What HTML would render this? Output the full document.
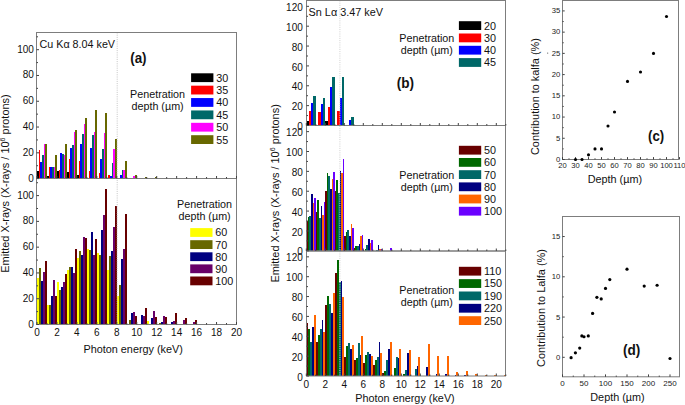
<!DOCTYPE html><html><head><meta charset="utf-8"><style>html,body{margin:0;padding:0;background:#fff;}svg{display:block;}</style></head><body><svg width="685" height="405" viewBox="0 0 685 405" font-family="Liberation Sans">
<rect width="685" height="405" fill="#fff"/>
<g shape-rendering="crispEdges">
<rect x="37.00" y="171.25" width="1.66" height="7.35" fill="#000000"/>
<rect x="38.66" y="150.24" width="1.66" height="28.36" fill="#ff0000"/>
<rect x="40.33" y="162.10" width="1.66" height="16.50" fill="#0000ff"/>
<rect x="41.99" y="155.40" width="1.66" height="23.20" fill="#006868"/>
<rect x="43.65" y="143.80" width="1.66" height="34.80" fill="#ff00ff"/>
<rect x="45.31" y="143.80" width="1.66" height="34.80" fill="#686800"/>
<rect x="46.98" y="176.02" width="1.66" height="2.58" fill="#000000"/>
<rect x="48.64" y="167.00" width="1.66" height="11.60" fill="#ff0000"/>
<rect x="50.30" y="167.00" width="1.66" height="11.60" fill="#0000ff"/>
<rect x="51.96" y="167.00" width="1.66" height="11.60" fill="#006868"/>
<rect x="53.62" y="167.00" width="1.66" height="11.60" fill="#ff00ff"/>
<rect x="55.29" y="155.40" width="1.66" height="23.20" fill="#686800"/>
<rect x="56.95" y="171.25" width="1.66" height="7.35" fill="#000000"/>
<rect x="58.61" y="169.96" width="1.66" height="8.64" fill="#ff0000"/>
<rect x="60.28" y="152.82" width="1.66" height="25.78" fill="#0000ff"/>
<rect x="61.94" y="154.11" width="1.66" height="24.49" fill="#006868"/>
<rect x="63.60" y="155.40" width="1.66" height="23.20" fill="#ff00ff"/>
<rect x="65.26" y="143.80" width="1.66" height="34.80" fill="#686800"/>
<rect x="66.92" y="172.16" width="1.66" height="6.44" fill="#000000"/>
<rect x="68.59" y="159.26" width="1.66" height="19.33" fill="#ff0000"/>
<rect x="70.25" y="148.05" width="1.66" height="30.55" fill="#0000ff"/>
<rect x="71.91" y="145.09" width="1.66" height="33.51" fill="#006868"/>
<rect x="73.58" y="132.20" width="1.66" height="46.40" fill="#ff00ff"/>
<rect x="75.24" y="129.62" width="1.66" height="48.98" fill="#686800"/>
<rect x="76.90" y="175.25" width="1.66" height="3.35" fill="#000000"/>
<rect x="78.56" y="160.55" width="1.66" height="18.05" fill="#ff0000"/>
<rect x="80.23" y="144.05" width="1.66" height="34.55" fill="#0000ff"/>
<rect x="81.89" y="133.74" width="1.66" height="44.86" fill="#006868"/>
<rect x="83.55" y="124.08" width="1.66" height="54.52" fill="#ff00ff"/>
<rect x="85.21" y="117.76" width="1.66" height="60.84" fill="#686800"/>
<rect x="88.54" y="171.38" width="1.66" height="7.22" fill="#ff0000"/>
<rect x="90.20" y="147.66" width="1.66" height="30.94" fill="#0000ff"/>
<rect x="91.86" y="135.16" width="1.66" height="43.44" fill="#006868"/>
<rect x="93.53" y="131.94" width="1.66" height="46.66" fill="#ff00ff"/>
<rect x="95.19" y="110.28" width="1.66" height="68.32" fill="#686800"/>
<rect x="98.51" y="173.19" width="1.66" height="5.41" fill="#ff0000"/>
<rect x="100.17" y="159.14" width="1.66" height="19.46" fill="#0000ff"/>
<rect x="101.84" y="148.95" width="1.66" height="29.65" fill="#006868"/>
<rect x="103.50" y="133.10" width="1.66" height="45.50" fill="#ff00ff"/>
<rect x="105.16" y="112.86" width="1.66" height="65.74" fill="#686800"/>
<rect x="108.49" y="174.73" width="1.66" height="3.87" fill="#ff0000"/>
<rect x="110.15" y="176.28" width="1.66" height="2.32" fill="#0000ff"/>
<rect x="111.81" y="163.39" width="1.66" height="15.21" fill="#006868"/>
<rect x="113.48" y="148.95" width="1.66" height="29.65" fill="#ff00ff"/>
<rect x="115.14" y="138.64" width="1.66" height="39.96" fill="#686800"/>
<rect x="120.12" y="175.38" width="1.66" height="3.22" fill="#0000ff"/>
<rect x="121.79" y="169.83" width="1.66" height="8.77" fill="#006868"/>
<rect x="123.45" y="169.83" width="1.66" height="8.77" fill="#ff00ff"/>
<rect x="125.11" y="160.81" width="1.66" height="17.79" fill="#686800"/>
<rect x="133.42" y="176.28" width="1.66" height="2.32" fill="#ff00ff"/>
<rect x="135.09" y="175.25" width="1.66" height="3.35" fill="#686800"/>
<rect x="145.06" y="176.54" width="1.66" height="2.06" fill="#686800"/>
<rect x="155.04" y="177.31" width="1.66" height="1.29" fill="#686800"/>
<rect x="37.00" y="278.35" width="1.99" height="46.15" fill="#ffff00"/>
<rect x="38.99" y="268.17" width="1.99" height="56.33" fill="#686800"/>
<rect x="40.99" y="280.67" width="1.99" height="43.83" fill="#000080"/>
<rect x="42.98" y="272.17" width="1.99" height="52.33" fill="#680068"/>
<rect x="44.98" y="261.47" width="1.99" height="63.03" fill="#680000"/>
<rect x="46.98" y="305.42" width="1.99" height="19.08" fill="#ffff00"/>
<rect x="48.97" y="305.42" width="1.99" height="19.08" fill="#686800"/>
<rect x="50.97" y="296.40" width="1.99" height="28.10" fill="#000080"/>
<rect x="52.96" y="279.64" width="1.99" height="44.86" fill="#680068"/>
<rect x="54.95" y="296.40" width="1.99" height="28.10" fill="#680000"/>
<rect x="56.95" y="281.96" width="1.99" height="42.54" fill="#ffff00"/>
<rect x="58.95" y="290.08" width="1.99" height="34.42" fill="#686800"/>
<rect x="60.94" y="287.12" width="1.99" height="37.38" fill="#000080"/>
<rect x="62.94" y="281.96" width="1.99" height="42.54" fill="#680068"/>
<rect x="64.93" y="274.23" width="1.99" height="50.27" fill="#680000"/>
<rect x="66.92" y="269.85" width="1.99" height="54.65" fill="#ffff00"/>
<rect x="68.92" y="266.88" width="1.99" height="57.62" fill="#686800"/>
<rect x="70.91" y="266.88" width="1.99" height="57.62" fill="#000080"/>
<rect x="72.91" y="273.33" width="1.99" height="51.17" fill="#680068"/>
<rect x="74.91" y="248.58" width="1.99" height="75.92" fill="#680000"/>
<rect x="76.90" y="257.60" width="1.99" height="66.90" fill="#ffff00"/>
<rect x="78.90" y="251.41" width="1.99" height="73.09" fill="#686800"/>
<rect x="80.89" y="255.02" width="1.99" height="69.48" fill="#000080"/>
<rect x="82.89" y="236.98" width="1.99" height="87.52" fill="#680068"/>
<rect x="84.88" y="238.14" width="1.99" height="86.36" fill="#680000"/>
<rect x="86.88" y="248.84" width="1.99" height="75.66" fill="#ffff00"/>
<rect x="88.87" y="250.12" width="1.99" height="74.38" fill="#686800"/>
<rect x="90.86" y="231.95" width="1.99" height="92.55" fill="#000080"/>
<rect x="92.86" y="255.02" width="1.99" height="69.48" fill="#680068"/>
<rect x="94.86" y="238.91" width="1.99" height="85.59" fill="#680000"/>
<rect x="96.85" y="252.57" width="1.99" height="71.93" fill="#ffff00"/>
<rect x="98.84" y="255.02" width="1.99" height="69.48" fill="#686800"/>
<rect x="100.84" y="230.40" width="1.99" height="94.10" fill="#000080"/>
<rect x="102.83" y="214.68" width="1.99" height="109.82" fill="#680068"/>
<rect x="104.83" y="189.16" width="1.99" height="135.34" fill="#680000"/>
<rect x="106.83" y="270.10" width="1.99" height="54.40" fill="#ffff00"/>
<rect x="108.82" y="256.18" width="1.99" height="68.32" fill="#686800"/>
<rect x="110.81" y="251.28" width="1.99" height="73.22" fill="#000080"/>
<rect x="112.81" y="226.54" width="1.99" height="97.96" fill="#680068"/>
<rect x="114.81" y="205.53" width="1.99" height="118.97" fill="#680000"/>
<rect x="116.80" y="296.14" width="1.99" height="28.36" fill="#ffff00"/>
<rect x="118.80" y="284.54" width="1.99" height="39.96" fill="#686800"/>
<rect x="120.79" y="258.76" width="1.99" height="65.74" fill="#000080"/>
<rect x="122.78" y="248.84" width="1.99" height="75.66" fill="#680068"/>
<rect x="124.78" y="213.65" width="1.99" height="110.85" fill="#680000"/>
<rect x="128.77" y="319.60" width="1.99" height="4.90" fill="#686800"/>
<rect x="130.76" y="313.16" width="1.99" height="11.34" fill="#000080"/>
<rect x="132.76" y="311.74" width="1.99" height="12.76" fill="#680068"/>
<rect x="134.75" y="315.73" width="1.99" height="8.77" fill="#680000"/>
<rect x="140.74" y="314.57" width="1.99" height="9.93" fill="#000080"/>
<rect x="142.74" y="316.25" width="1.99" height="8.25" fill="#680068"/>
<rect x="144.73" y="308.26" width="1.99" height="16.24" fill="#680000"/>
<rect x="146.72" y="321.02" width="1.99" height="3.48" fill="#ffff00"/>
<rect x="150.72" y="318.44" width="1.99" height="6.06" fill="#000080"/>
<rect x="152.71" y="310.84" width="1.99" height="13.66" fill="#680068"/>
<rect x="154.70" y="317.41" width="1.99" height="7.09" fill="#680000"/>
<rect x="158.69" y="323.21" width="1.99" height="1.29" fill="#686800"/>
<rect x="160.69" y="322.31" width="1.99" height="2.19" fill="#000080"/>
<rect x="162.69" y="316.12" width="1.99" height="8.38" fill="#680068"/>
<rect x="164.68" y="317.41" width="1.99" height="7.09" fill="#680000"/>
<rect x="170.66" y="322.31" width="1.99" height="2.19" fill="#000080"/>
<rect x="172.66" y="321.15" width="1.99" height="3.35" fill="#680068"/>
<rect x="174.65" y="313.16" width="1.99" height="11.34" fill="#680000"/>
<rect x="182.63" y="320.12" width="1.99" height="4.38" fill="#680068"/>
<rect x="184.63" y="318.44" width="1.99" height="6.06" fill="#680000"/>
<rect x="192.61" y="322.31" width="1.99" height="2.19" fill="#680068"/>
<rect x="194.60" y="319.86" width="1.99" height="4.64" fill="#680000"/>
<rect x="204.58" y="323.73" width="1.99" height="0.77" fill="#680000"/>
<rect x="212.56" y="323.73" width="1.99" height="0.77" fill="#680068"/>
<rect x="224.53" y="323.73" width="1.99" height="0.77" fill="#680000"/>
</g>
<line x1="117.20" y1="32.50" x2="117.20" y2="324.50" stroke="#c4c4c4" stroke-width="1" stroke-dasharray="1,1.2"/>
<rect x="36.50" y="32.50" width="200.00" height="146.00" fill="none" stroke="#7d7d7d" stroke-width="1"/>
<rect x="36.50" y="178.50" width="200.00" height="146.00" fill="none" stroke="#7d7d7d" stroke-width="1"/>
<line x1="36.50" y1="178.60" x2="39.00" y2="178.60" stroke="#404040" stroke-width="1" />
<text x="33.90" y="181.60" font-size="10.0" text-anchor="end" font-weight="normal" fill="#111" >0</text>
<line x1="36.50" y1="165.71" x2="38.00" y2="165.71" stroke="#404040" stroke-width="1" />
<line x1="36.50" y1="152.82" x2="39.00" y2="152.82" stroke="#404040" stroke-width="1" />
<text x="33.90" y="155.82" font-size="10.0" text-anchor="end" font-weight="normal" fill="#111" >20</text>
<line x1="36.50" y1="139.93" x2="38.00" y2="139.93" stroke="#404040" stroke-width="1" />
<line x1="36.50" y1="127.04" x2="39.00" y2="127.04" stroke="#404040" stroke-width="1" />
<text x="33.90" y="130.04" font-size="10.0" text-anchor="end" font-weight="normal" fill="#111" >40</text>
<line x1="36.50" y1="114.15" x2="38.00" y2="114.15" stroke="#404040" stroke-width="1" />
<line x1="36.50" y1="101.26" x2="39.00" y2="101.26" stroke="#404040" stroke-width="1" />
<text x="33.90" y="104.26" font-size="10.0" text-anchor="end" font-weight="normal" fill="#111" >60</text>
<line x1="36.50" y1="88.37" x2="38.00" y2="88.37" stroke="#404040" stroke-width="1" />
<line x1="36.50" y1="75.48" x2="39.00" y2="75.48" stroke="#404040" stroke-width="1" />
<text x="33.90" y="78.48" font-size="10.0" text-anchor="end" font-weight="normal" fill="#111" >80</text>
<line x1="36.50" y1="62.59" x2="38.00" y2="62.59" stroke="#404040" stroke-width="1" />
<line x1="36.50" y1="49.70" x2="39.00" y2="49.70" stroke="#404040" stroke-width="1" />
<text x="33.90" y="52.70" font-size="10.0" text-anchor="end" font-weight="normal" fill="#111" >100</text>
<line x1="36.50" y1="36.81" x2="38.00" y2="36.81" stroke="#404040" stroke-width="1" />
<line x1="36.50" y1="324.50" x2="39.00" y2="324.50" stroke="#404040" stroke-width="1" />
<text x="33.90" y="327.50" font-size="10.0" text-anchor="end" font-weight="normal" fill="#111" >0</text>
<line x1="36.50" y1="311.61" x2="38.00" y2="311.61" stroke="#404040" stroke-width="1" />
<line x1="36.50" y1="298.72" x2="39.00" y2="298.72" stroke="#404040" stroke-width="1" />
<text x="33.90" y="301.72" font-size="10.0" text-anchor="end" font-weight="normal" fill="#111" >20</text>
<line x1="36.50" y1="285.83" x2="38.00" y2="285.83" stroke="#404040" stroke-width="1" />
<line x1="36.50" y1="272.94" x2="39.00" y2="272.94" stroke="#404040" stroke-width="1" />
<text x="33.90" y="275.94" font-size="10.0" text-anchor="end" font-weight="normal" fill="#111" >40</text>
<line x1="36.50" y1="260.05" x2="38.00" y2="260.05" stroke="#404040" stroke-width="1" />
<line x1="36.50" y1="247.16" x2="39.00" y2="247.16" stroke="#404040" stroke-width="1" />
<text x="33.90" y="250.16" font-size="10.0" text-anchor="end" font-weight="normal" fill="#111" >60</text>
<line x1="36.50" y1="234.27" x2="38.00" y2="234.27" stroke="#404040" stroke-width="1" />
<line x1="36.50" y1="221.38" x2="39.00" y2="221.38" stroke="#404040" stroke-width="1" />
<text x="33.90" y="224.38" font-size="10.0" text-anchor="end" font-weight="normal" fill="#111" >80</text>
<line x1="36.50" y1="208.49" x2="38.00" y2="208.49" stroke="#404040" stroke-width="1" />
<line x1="36.50" y1="195.60" x2="39.00" y2="195.60" stroke="#404040" stroke-width="1" />
<text x="33.90" y="198.60" font-size="10.0" text-anchor="end" font-weight="normal" fill="#111" >100</text>
<line x1="36.50" y1="182.71" x2="38.00" y2="182.71" stroke="#404040" stroke-width="1" />
<line x1="37.00" y1="178.50" x2="37.00" y2="176.00" stroke="#404040" stroke-width="1" />
<line x1="46.98" y1="178.50" x2="46.98" y2="177.00" stroke="#404040" stroke-width="1" />
<line x1="56.95" y1="178.50" x2="56.95" y2="176.00" stroke="#404040" stroke-width="1" />
<line x1="66.92" y1="178.50" x2="66.92" y2="177.00" stroke="#404040" stroke-width="1" />
<line x1="76.90" y1="178.50" x2="76.90" y2="176.00" stroke="#404040" stroke-width="1" />
<line x1="86.88" y1="178.50" x2="86.88" y2="177.00" stroke="#404040" stroke-width="1" />
<line x1="96.85" y1="178.50" x2="96.85" y2="176.00" stroke="#404040" stroke-width="1" />
<line x1="106.83" y1="178.50" x2="106.83" y2="177.00" stroke="#404040" stroke-width="1" />
<line x1="116.80" y1="178.50" x2="116.80" y2="176.00" stroke="#404040" stroke-width="1" />
<line x1="126.77" y1="178.50" x2="126.77" y2="177.00" stroke="#404040" stroke-width="1" />
<line x1="136.75" y1="178.50" x2="136.75" y2="176.00" stroke="#404040" stroke-width="1" />
<line x1="146.72" y1="178.50" x2="146.72" y2="177.00" stroke="#404040" stroke-width="1" />
<line x1="156.70" y1="178.50" x2="156.70" y2="176.00" stroke="#404040" stroke-width="1" />
<line x1="166.67" y1="178.50" x2="166.67" y2="177.00" stroke="#404040" stroke-width="1" />
<line x1="176.65" y1="178.50" x2="176.65" y2="176.00" stroke="#404040" stroke-width="1" />
<line x1="186.62" y1="178.50" x2="186.62" y2="177.00" stroke="#404040" stroke-width="1" />
<line x1="196.60" y1="178.50" x2="196.60" y2="176.00" stroke="#404040" stroke-width="1" />
<line x1="206.57" y1="178.50" x2="206.57" y2="177.00" stroke="#404040" stroke-width="1" />
<line x1="216.55" y1="178.50" x2="216.55" y2="176.00" stroke="#404040" stroke-width="1" />
<line x1="226.53" y1="178.50" x2="226.53" y2="177.00" stroke="#404040" stroke-width="1" />
<line x1="236.50" y1="178.50" x2="236.50" y2="176.00" stroke="#404040" stroke-width="1" />
<line x1="37.00" y1="324.50" x2="37.00" y2="322.00" stroke="#404040" stroke-width="1" />
<text x="37.00" y="335.70" font-size="10.0" text-anchor="middle" font-weight="normal" fill="#111" >0</text>
<line x1="46.98" y1="324.50" x2="46.98" y2="323.00" stroke="#404040" stroke-width="1" />
<line x1="56.95" y1="324.50" x2="56.95" y2="322.00" stroke="#404040" stroke-width="1" />
<text x="56.95" y="335.70" font-size="10.0" text-anchor="middle" font-weight="normal" fill="#111" >2</text>
<line x1="66.92" y1="324.50" x2="66.92" y2="323.00" stroke="#404040" stroke-width="1" />
<line x1="76.90" y1="324.50" x2="76.90" y2="322.00" stroke="#404040" stroke-width="1" />
<text x="76.90" y="335.70" font-size="10.0" text-anchor="middle" font-weight="normal" fill="#111" >4</text>
<line x1="86.88" y1="324.50" x2="86.88" y2="323.00" stroke="#404040" stroke-width="1" />
<line x1="96.85" y1="324.50" x2="96.85" y2="322.00" stroke="#404040" stroke-width="1" />
<text x="96.85" y="335.70" font-size="10.0" text-anchor="middle" font-weight="normal" fill="#111" >6</text>
<line x1="106.83" y1="324.50" x2="106.83" y2="323.00" stroke="#404040" stroke-width="1" />
<line x1="116.80" y1="324.50" x2="116.80" y2="322.00" stroke="#404040" stroke-width="1" />
<text x="116.80" y="335.70" font-size="10.0" text-anchor="middle" font-weight="normal" fill="#111" >8</text>
<line x1="126.77" y1="324.50" x2="126.77" y2="323.00" stroke="#404040" stroke-width="1" />
<line x1="136.75" y1="324.50" x2="136.75" y2="322.00" stroke="#404040" stroke-width="1" />
<text x="136.75" y="335.70" font-size="10.0" text-anchor="middle" font-weight="normal" fill="#111" >10</text>
<line x1="146.72" y1="324.50" x2="146.72" y2="323.00" stroke="#404040" stroke-width="1" />
<line x1="156.70" y1="324.50" x2="156.70" y2="322.00" stroke="#404040" stroke-width="1" />
<text x="156.70" y="335.70" font-size="10.0" text-anchor="middle" font-weight="normal" fill="#111" >12</text>
<line x1="166.67" y1="324.50" x2="166.67" y2="323.00" stroke="#404040" stroke-width="1" />
<line x1="176.65" y1="324.50" x2="176.65" y2="322.00" stroke="#404040" stroke-width="1" />
<text x="176.65" y="335.70" font-size="10.0" text-anchor="middle" font-weight="normal" fill="#111" >14</text>
<line x1="186.62" y1="324.50" x2="186.62" y2="323.00" stroke="#404040" stroke-width="1" />
<line x1="196.60" y1="324.50" x2="196.60" y2="322.00" stroke="#404040" stroke-width="1" />
<text x="196.60" y="335.70" font-size="10.0" text-anchor="middle" font-weight="normal" fill="#111" >16</text>
<line x1="206.57" y1="324.50" x2="206.57" y2="323.00" stroke="#404040" stroke-width="1" />
<line x1="216.55" y1="324.50" x2="216.55" y2="322.00" stroke="#404040" stroke-width="1" />
<text x="216.55" y="335.70" font-size="10.0" text-anchor="middle" font-weight="normal" fill="#111" >18</text>
<line x1="226.53" y1="324.50" x2="226.53" y2="323.00" stroke="#404040" stroke-width="1" />
<line x1="236.50" y1="324.50" x2="236.50" y2="322.00" stroke="#404040" stroke-width="1" />
<text x="236.50" y="335.70" font-size="10.0" text-anchor="middle" font-weight="normal" fill="#111" >20</text>
<text x="39.50" y="47.50" font-size="10.75" text-anchor="start" font-weight="normal" fill="#111" >Cu Kα 8.04 keV</text>
<text transform="translate(130.20,62.90) scale(1,1.1)" font-size="13.4" font-weight="bold" fill="#111">(a)</text>
<text x="157.60" y="97.50" font-size="10.75" text-anchor="middle" font-weight="normal" fill="#111" >Penetration</text>
<text x="157.60" y="109.60" font-size="10.75" text-anchor="middle" font-weight="normal" fill="#111" >depth (µm)</text>
<rect x="191.10" y="73.30" width="22.30" height="8.80" fill="#000000"/>
<text x="216.20" y="81.60" font-size="10.8" text-anchor="start" font-weight="normal" fill="#111" >30</text>
<rect x="191.10" y="85.68" width="22.30" height="8.80" fill="#ff0000"/>
<text x="216.20" y="93.98" font-size="10.8" text-anchor="start" font-weight="normal" fill="#111" >35</text>
<rect x="191.10" y="98.06" width="22.30" height="8.80" fill="#0000ff"/>
<text x="216.20" y="106.36" font-size="10.8" text-anchor="start" font-weight="normal" fill="#111" >40</text>
<rect x="191.10" y="110.44" width="22.30" height="8.80" fill="#006868"/>
<text x="216.20" y="118.74" font-size="10.8" text-anchor="start" font-weight="normal" fill="#111" >45</text>
<rect x="191.10" y="122.82" width="22.30" height="8.80" fill="#ff00ff"/>
<text x="216.20" y="131.12" font-size="10.8" text-anchor="start" font-weight="normal" fill="#111" >50</text>
<rect x="191.10" y="135.20" width="22.30" height="8.80" fill="#686800"/>
<text x="216.20" y="143.50" font-size="10.8" text-anchor="start" font-weight="normal" fill="#111" >55</text>
<text x="204.60" y="207.80" font-size="10.75" text-anchor="middle" font-weight="normal" fill="#111" >Penetration</text>
<text x="204.60" y="219.90" font-size="10.75" text-anchor="middle" font-weight="normal" fill="#111" >depth (µm)</text>
<rect x="190.20" y="228.10" width="22.30" height="8.80" fill="#ffff00"/>
<text x="215.30" y="236.40" font-size="10.8" text-anchor="start" font-weight="normal" fill="#111" >60</text>
<rect x="190.20" y="240.20" width="22.30" height="8.80" fill="#686800"/>
<text x="215.30" y="248.50" font-size="10.8" text-anchor="start" font-weight="normal" fill="#111" >70</text>
<rect x="190.20" y="252.30" width="22.30" height="8.80" fill="#000080"/>
<text x="215.30" y="260.60" font-size="10.8" text-anchor="start" font-weight="normal" fill="#111" >80</text>
<rect x="190.20" y="264.40" width="22.30" height="8.80" fill="#680068"/>
<text x="215.30" y="272.70" font-size="10.8" text-anchor="start" font-weight="normal" fill="#111" >90</text>
<rect x="190.20" y="276.50" width="22.30" height="8.80" fill="#680000"/>
<text x="215.30" y="284.80" font-size="10.8" text-anchor="start" font-weight="normal" fill="#111" >100</text>
<text x="133.20" y="353.00" font-size="10.85" text-anchor="middle" font-weight="normal" fill="#111" >Photon energy (keV)</text>
<text transform="translate(9.0,183.5) rotate(-90)" font-size="10.95" text-anchor="middle" fill="#111">Emitted X-rays (X-rays / 10<tspan font-size="7" dy="-4">6</tspan><tspan dy="4"> protons)</tspan></text>
<g shape-rendering="crispEdges">
<rect x="306.30" y="121.03" width="2.38" height="4.47" fill="#000000"/>
<rect x="308.68" y="110.80" width="2.38" height="14.70" fill="#ff0000"/>
<rect x="311.05" y="102.96" width="2.38" height="22.54" fill="#0000ff"/>
<rect x="313.43" y="96.01" width="2.38" height="29.49" fill="#006868"/>
<rect x="318.18" y="112.00" width="2.38" height="13.50" fill="#ff0000"/>
<rect x="320.55" y="104.15" width="2.38" height="21.35" fill="#0000ff"/>
<rect x="322.93" y="97.70" width="2.38" height="27.80" fill="#006868"/>
<rect x="325.30" y="121.03" width="2.38" height="4.47" fill="#000000"/>
<rect x="327.68" y="106.73" width="2.38" height="18.77" fill="#ff0000"/>
<rect x="330.05" y="86.77" width="2.38" height="38.73" fill="#0000ff"/>
<rect x="332.43" y="76.94" width="2.38" height="48.56" fill="#006868"/>
<rect x="337.18" y="110.80" width="2.38" height="14.70" fill="#ff0000"/>
<rect x="339.55" y="97.70" width="2.38" height="27.80" fill="#0000ff"/>
<rect x="341.93" y="76.94" width="2.38" height="48.56" fill="#006868"/>
<rect x="349.05" y="119.54" width="2.38" height="5.96" fill="#0000ff"/>
<rect x="351.43" y="116.56" width="2.38" height="8.94" fill="#006868"/>
<rect x="358.55" y="124.51" width="2.38" height="0.99" fill="#0000ff"/>
<rect x="360.93" y="124.51" width="2.38" height="0.99" fill="#006868"/>
<rect x="306.30" y="221.01" width="1.58" height="29.79" fill="#680000"/>
<rect x="307.88" y="217.04" width="1.58" height="33.76" fill="#006800"/>
<rect x="309.47" y="216.05" width="1.58" height="34.76" fill="#006868"/>
<rect x="311.05" y="194.20" width="1.58" height="56.60" fill="#000080"/>
<rect x="312.63" y="203.14" width="1.58" height="47.66" fill="#ff6600"/>
<rect x="314.22" y="198.17" width="1.58" height="52.63" fill="#6a00ff"/>
<rect x="315.80" y="212.07" width="1.58" height="38.73" fill="#680000"/>
<rect x="317.38" y="200.16" width="1.58" height="50.64" fill="#006800"/>
<rect x="318.97" y="218.03" width="1.58" height="32.77" fill="#006868"/>
<rect x="320.55" y="206.12" width="1.58" height="44.69" fill="#000080"/>
<rect x="322.13" y="215.05" width="1.58" height="35.75" fill="#ff6600"/>
<rect x="323.72" y="202.14" width="1.58" height="48.66" fill="#6a00ff"/>
<rect x="325.30" y="191.22" width="1.58" height="59.58" fill="#680000"/>
<rect x="326.88" y="173.35" width="1.58" height="77.45" fill="#006800"/>
<rect x="328.47" y="176.33" width="1.58" height="74.47" fill="#006868"/>
<rect x="330.05" y="189.23" width="1.58" height="61.57" fill="#000080"/>
<rect x="331.63" y="179.30" width="1.58" height="71.50" fill="#ff6600"/>
<rect x="333.22" y="172.35" width="1.58" height="78.45" fill="#6a00ff"/>
<rect x="334.80" y="191.22" width="1.58" height="59.58" fill="#680000"/>
<rect x="336.38" y="180.30" width="1.58" height="70.50" fill="#006800"/>
<rect x="337.97" y="192.71" width="1.58" height="58.09" fill="#006868"/>
<rect x="339.55" y="171.36" width="1.58" height="79.44" fill="#000080"/>
<rect x="341.13" y="173.35" width="1.58" height="77.45" fill="#ff6600"/>
<rect x="342.72" y="159.44" width="1.58" height="91.36" fill="#6a00ff"/>
<rect x="344.30" y="235.91" width="1.58" height="14.89" fill="#680000"/>
<rect x="345.88" y="231.93" width="1.58" height="18.87" fill="#006800"/>
<rect x="347.47" y="229.95" width="1.58" height="20.85" fill="#006868"/>
<rect x="349.05" y="235.91" width="1.58" height="14.89" fill="#000080"/>
<rect x="350.63" y="223.99" width="1.58" height="26.81" fill="#ff6600"/>
<rect x="352.22" y="227.96" width="1.58" height="22.84" fill="#6a00ff"/>
<rect x="353.80" y="247.82" width="1.58" height="2.98" fill="#680000"/>
<rect x="355.38" y="245.84" width="1.58" height="4.96" fill="#006800"/>
<rect x="356.97" y="245.84" width="1.58" height="4.96" fill="#006868"/>
<rect x="358.55" y="243.85" width="1.58" height="6.95" fill="#000080"/>
<rect x="360.13" y="235.91" width="1.58" height="14.89" fill="#ff6600"/>
<rect x="361.72" y="234.91" width="1.58" height="15.89" fill="#6a00ff"/>
<rect x="364.88" y="249.31" width="1.58" height="1.49" fill="#006800"/>
<rect x="366.47" y="244.84" width="1.58" height="5.96" fill="#006868"/>
<rect x="368.05" y="238.88" width="1.58" height="11.92" fill="#000080"/>
<rect x="369.63" y="242.86" width="1.58" height="7.94" fill="#ff6600"/>
<rect x="371.22" y="239.88" width="1.58" height="10.92" fill="#6a00ff"/>
<rect x="375.97" y="249.81" width="1.58" height="0.99" fill="#006868"/>
<rect x="377.55" y="244.84" width="1.58" height="5.96" fill="#000080"/>
<rect x="379.13" y="248.81" width="1.58" height="1.99" fill="#ff6600"/>
<rect x="380.72" y="248.62" width="1.58" height="2.18" fill="#6a00ff"/>
<rect x="390.22" y="247.82" width="1.58" height="2.98" fill="#6a00ff"/>
<rect x="306.30" y="323.37" width="1.90" height="52.63" fill="#680000"/>
<rect x="308.20" y="329.33" width="1.90" height="46.67" fill="#006800"/>
<rect x="310.10" y="342.24" width="1.90" height="33.76" fill="#006868"/>
<rect x="312.00" y="326.85" width="1.90" height="49.15" fill="#000080"/>
<rect x="313.90" y="314.93" width="1.90" height="61.07" fill="#ff6600"/>
<rect x="315.80" y="342.24" width="1.90" height="33.76" fill="#680000"/>
<rect x="317.70" y="335.29" width="1.90" height="40.71" fill="#006800"/>
<rect x="319.60" y="329.33" width="1.90" height="46.67" fill="#006868"/>
<rect x="321.50" y="319.90" width="1.90" height="56.10" fill="#000080"/>
<rect x="323.40" y="331.81" width="1.90" height="44.19" fill="#ff6600"/>
<rect x="325.30" y="304.50" width="1.90" height="71.50" fill="#680000"/>
<rect x="327.20" y="295.57" width="1.90" height="80.43" fill="#006800"/>
<rect x="329.10" y="303.51" width="1.90" height="72.49" fill="#006868"/>
<rect x="331.00" y="313.44" width="1.90" height="62.56" fill="#000080"/>
<rect x="332.90" y="292.59" width="1.90" height="83.41" fill="#ff6600"/>
<rect x="334.80" y="272.73" width="1.90" height="103.27" fill="#680000"/>
<rect x="336.70" y="259.82" width="1.90" height="116.18" fill="#006800"/>
<rect x="338.60" y="281.67" width="1.90" height="94.33" fill="#006868"/>
<rect x="340.50" y="280.67" width="1.90" height="95.33" fill="#000080"/>
<rect x="342.40" y="296.56" width="1.90" height="79.44" fill="#ff6600"/>
<rect x="344.30" y="356.64" width="1.90" height="19.36" fill="#680000"/>
<rect x="346.20" y="346.21" width="1.90" height="29.79" fill="#006800"/>
<rect x="348.10" y="342.64" width="1.90" height="33.36" fill="#006868"/>
<rect x="350.00" y="349.49" width="1.90" height="26.51" fill="#000080"/>
<rect x="351.90" y="344.62" width="1.90" height="31.38" fill="#ff6600"/>
<rect x="353.80" y="359.62" width="1.90" height="16.38" fill="#680000"/>
<rect x="355.70" y="358.42" width="1.90" height="17.58" fill="#006800"/>
<rect x="357.60" y="343.33" width="1.90" height="32.67" fill="#006868"/>
<rect x="359.50" y="355.35" width="1.90" height="20.65" fill="#000080"/>
<rect x="361.40" y="335.58" width="1.90" height="40.42" fill="#ff6600"/>
<rect x="363.30" y="362.59" width="1.90" height="13.41" fill="#680000"/>
<rect x="365.20" y="355.35" width="1.90" height="20.65" fill="#006800"/>
<rect x="367.10" y="351.57" width="1.90" height="24.43" fill="#006868"/>
<rect x="369.00" y="354.45" width="1.90" height="21.55" fill="#000080"/>
<rect x="370.90" y="356.24" width="1.90" height="19.76" fill="#ff6600"/>
<rect x="372.80" y="365.47" width="1.90" height="10.53" fill="#680000"/>
<rect x="374.70" y="360.31" width="1.90" height="15.69" fill="#006800"/>
<rect x="376.60" y="356.54" width="1.90" height="19.46" fill="#006868"/>
<rect x="378.50" y="341.84" width="1.90" height="34.16" fill="#000080"/>
<rect x="380.40" y="353.16" width="1.90" height="22.84" fill="#ff6600"/>
<rect x="382.30" y="373.32" width="1.90" height="2.68" fill="#680000"/>
<rect x="384.20" y="371.33" width="1.90" height="4.67" fill="#006800"/>
<rect x="386.10" y="360.31" width="1.90" height="15.69" fill="#006868"/>
<rect x="388.00" y="349.49" width="1.90" height="26.51" fill="#000080"/>
<rect x="389.90" y="341.64" width="1.90" height="34.36" fill="#ff6600"/>
<rect x="393.70" y="368.35" width="1.90" height="7.65" fill="#006800"/>
<rect x="395.60" y="357.33" width="1.90" height="18.67" fill="#006868"/>
<rect x="397.50" y="358.42" width="1.90" height="17.58" fill="#000080"/>
<rect x="399.40" y="348.79" width="1.90" height="27.21" fill="#ff6600"/>
<rect x="403.20" y="374.11" width="1.90" height="1.89" fill="#006800"/>
<rect x="405.10" y="370.44" width="1.90" height="5.56" fill="#006868"/>
<rect x="407.00" y="352.57" width="1.90" height="23.43" fill="#000080"/>
<rect x="408.90" y="350.38" width="1.90" height="25.62" fill="#ff6600"/>
<rect x="412.70" y="375.50" width="1.90" height="0.50" fill="#006800"/>
<rect x="414.60" y="369.25" width="1.90" height="6.75" fill="#006868"/>
<rect x="416.50" y="366.47" width="1.90" height="9.53" fill="#000080"/>
<rect x="418.40" y="356.64" width="1.90" height="19.36" fill="#ff6600"/>
<rect x="424.10" y="375.50" width="1.90" height="0.50" fill="#006868"/>
<rect x="426.00" y="367.36" width="1.90" height="8.64" fill="#000080"/>
<rect x="427.90" y="343.83" width="1.90" height="32.17" fill="#ff6600"/>
<rect x="435.50" y="374.11" width="1.90" height="1.89" fill="#000080"/>
<rect x="437.40" y="355.74" width="1.90" height="20.26" fill="#ff6600"/>
<rect x="445.00" y="374.11" width="1.90" height="1.89" fill="#000080"/>
<rect x="446.90" y="355.74" width="1.90" height="20.26" fill="#ff6600"/>
<rect x="454.50" y="375.40" width="1.90" height="0.60" fill="#000080"/>
<rect x="456.40" y="372.23" width="1.90" height="3.77" fill="#ff6600"/>
<rect x="464.00" y="375.30" width="1.90" height="0.70" fill="#000080"/>
<rect x="465.90" y="371.23" width="1.90" height="4.77" fill="#ff6600"/>
<rect x="475.40" y="374.21" width="1.90" height="1.79" fill="#ff6600"/>
<rect x="484.90" y="375.21" width="1.90" height="0.79" fill="#ff6600"/>
<rect x="494.40" y="375.21" width="1.90" height="0.79" fill="#ff6600"/>
<rect x="503.90" y="375.21" width="1.90" height="0.79" fill="#ff6600"/>
</g>
<line x1="339.90" y1="0.50" x2="339.90" y2="376.00" stroke="#d0d0d0" stroke-width="1" stroke-dasharray="1,1.2"/>
<rect x="306.50" y="0.50" width="199.00" height="125.00" fill="none" stroke="#7d7d7d" stroke-width="1"/>
<rect x="306.50" y="125.50" width="199.00" height="125.50" fill="none" stroke="#7d7d7d" stroke-width="1"/>
<rect x="306.50" y="251.00" width="199.00" height="125.00" fill="none" stroke="#7d7d7d" stroke-width="1"/>
<line x1="306.50" y1="125.50" x2="309.00" y2="125.50" stroke="#404040" stroke-width="1" />
<text x="302.80" y="130.10" font-size="10.0" text-anchor="end" font-weight="normal" fill="#111" >0</text>
<line x1="306.50" y1="115.57" x2="308.00" y2="115.57" stroke="#404040" stroke-width="1" />
<line x1="306.50" y1="105.64" x2="309.00" y2="105.64" stroke="#404040" stroke-width="1" />
<text x="302.80" y="110.24" font-size="10.0" text-anchor="end" font-weight="normal" fill="#111" >20</text>
<line x1="306.50" y1="95.71" x2="308.00" y2="95.71" stroke="#404040" stroke-width="1" />
<line x1="306.50" y1="85.78" x2="309.00" y2="85.78" stroke="#404040" stroke-width="1" />
<text x="302.80" y="90.38" font-size="10.0" text-anchor="end" font-weight="normal" fill="#111" >40</text>
<line x1="306.50" y1="75.85" x2="308.00" y2="75.85" stroke="#404040" stroke-width="1" />
<line x1="306.50" y1="65.92" x2="309.00" y2="65.92" stroke="#404040" stroke-width="1" />
<text x="302.80" y="70.52" font-size="10.0" text-anchor="end" font-weight="normal" fill="#111" >60</text>
<line x1="306.50" y1="55.99" x2="308.00" y2="55.99" stroke="#404040" stroke-width="1" />
<line x1="306.50" y1="46.06" x2="309.00" y2="46.06" stroke="#404040" stroke-width="1" />
<text x="302.80" y="50.66" font-size="10.0" text-anchor="end" font-weight="normal" fill="#111" >80</text>
<line x1="306.50" y1="36.13" x2="308.00" y2="36.13" stroke="#404040" stroke-width="1" />
<line x1="306.50" y1="26.20" x2="309.00" y2="26.20" stroke="#404040" stroke-width="1" />
<text x="302.80" y="30.80" font-size="10.0" text-anchor="end" font-weight="normal" fill="#111" >100</text>
<line x1="306.50" y1="16.27" x2="308.00" y2="16.27" stroke="#404040" stroke-width="1" />
<line x1="306.50" y1="6.34" x2="309.00" y2="6.34" stroke="#404040" stroke-width="1" />
<text x="302.80" y="10.94" font-size="10.0" text-anchor="end" font-weight="normal" fill="#111" >120</text>
<line x1="306.50" y1="250.80" x2="309.00" y2="250.80" stroke="#404040" stroke-width="1" />
<text x="302.80" y="255.40" font-size="10.0" text-anchor="end" font-weight="normal" fill="#111" >0</text>
<line x1="306.50" y1="240.87" x2="308.00" y2="240.87" stroke="#404040" stroke-width="1" />
<line x1="306.50" y1="230.94" x2="309.00" y2="230.94" stroke="#404040" stroke-width="1" />
<text x="302.80" y="235.54" font-size="10.0" text-anchor="end" font-weight="normal" fill="#111" >20</text>
<line x1="306.50" y1="221.01" x2="308.00" y2="221.01" stroke="#404040" stroke-width="1" />
<line x1="306.50" y1="211.08" x2="309.00" y2="211.08" stroke="#404040" stroke-width="1" />
<text x="302.80" y="215.68" font-size="10.0" text-anchor="end" font-weight="normal" fill="#111" >40</text>
<line x1="306.50" y1="201.15" x2="308.00" y2="201.15" stroke="#404040" stroke-width="1" />
<line x1="306.50" y1="191.22" x2="309.00" y2="191.22" stroke="#404040" stroke-width="1" />
<text x="302.80" y="195.82" font-size="10.0" text-anchor="end" font-weight="normal" fill="#111" >60</text>
<line x1="306.50" y1="181.29" x2="308.00" y2="181.29" stroke="#404040" stroke-width="1" />
<line x1="306.50" y1="171.36" x2="309.00" y2="171.36" stroke="#404040" stroke-width="1" />
<text x="302.80" y="175.96" font-size="10.0" text-anchor="end" font-weight="normal" fill="#111" >80</text>
<line x1="306.50" y1="161.43" x2="308.00" y2="161.43" stroke="#404040" stroke-width="1" />
<line x1="306.50" y1="151.50" x2="309.00" y2="151.50" stroke="#404040" stroke-width="1" />
<text x="302.80" y="156.10" font-size="10.0" text-anchor="end" font-weight="normal" fill="#111" >100</text>
<line x1="306.50" y1="141.57" x2="308.00" y2="141.57" stroke="#404040" stroke-width="1" />
<line x1="306.50" y1="131.64" x2="309.00" y2="131.64" stroke="#404040" stroke-width="1" />
<text x="302.80" y="136.24" font-size="10.0" text-anchor="end" font-weight="normal" fill="#111" >120</text>
<line x1="306.50" y1="376.00" x2="309.00" y2="376.00" stroke="#404040" stroke-width="1" />
<text x="302.80" y="380.60" font-size="10.0" text-anchor="end" font-weight="normal" fill="#111" >0</text>
<line x1="306.50" y1="366.07" x2="308.00" y2="366.07" stroke="#404040" stroke-width="1" />
<line x1="306.50" y1="356.14" x2="309.00" y2="356.14" stroke="#404040" stroke-width="1" />
<text x="302.80" y="360.74" font-size="10.0" text-anchor="end" font-weight="normal" fill="#111" >20</text>
<line x1="306.50" y1="346.21" x2="308.00" y2="346.21" stroke="#404040" stroke-width="1" />
<line x1="306.50" y1="336.28" x2="309.00" y2="336.28" stroke="#404040" stroke-width="1" />
<text x="302.80" y="340.88" font-size="10.0" text-anchor="end" font-weight="normal" fill="#111" >40</text>
<line x1="306.50" y1="326.35" x2="308.00" y2="326.35" stroke="#404040" stroke-width="1" />
<line x1="306.50" y1="316.42" x2="309.00" y2="316.42" stroke="#404040" stroke-width="1" />
<text x="302.80" y="321.02" font-size="10.0" text-anchor="end" font-weight="normal" fill="#111" >60</text>
<line x1="306.50" y1="306.49" x2="308.00" y2="306.49" stroke="#404040" stroke-width="1" />
<line x1="306.50" y1="296.56" x2="309.00" y2="296.56" stroke="#404040" stroke-width="1" />
<text x="302.80" y="301.16" font-size="10.0" text-anchor="end" font-weight="normal" fill="#111" >80</text>
<line x1="306.50" y1="286.63" x2="308.00" y2="286.63" stroke="#404040" stroke-width="1" />
<line x1="306.50" y1="276.70" x2="309.00" y2="276.70" stroke="#404040" stroke-width="1" />
<text x="302.80" y="281.30" font-size="10.0" text-anchor="end" font-weight="normal" fill="#111" >100</text>
<line x1="306.50" y1="266.77" x2="308.00" y2="266.77" stroke="#404040" stroke-width="1" />
<line x1="306.50" y1="256.84" x2="309.00" y2="256.84" stroke="#404040" stroke-width="1" />
<text x="302.80" y="261.44" font-size="10.0" text-anchor="end" font-weight="normal" fill="#111" >120</text>
<line x1="306.30" y1="125.50" x2="306.30" y2="123.00" stroke="#404040" stroke-width="1" />
<line x1="315.80" y1="125.50" x2="315.80" y2="124.00" stroke="#404040" stroke-width="1" />
<line x1="325.30" y1="125.50" x2="325.30" y2="123.00" stroke="#404040" stroke-width="1" />
<line x1="334.80" y1="125.50" x2="334.80" y2="124.00" stroke="#404040" stroke-width="1" />
<line x1="344.30" y1="125.50" x2="344.30" y2="123.00" stroke="#404040" stroke-width="1" />
<line x1="353.80" y1="125.50" x2="353.80" y2="124.00" stroke="#404040" stroke-width="1" />
<line x1="363.30" y1="125.50" x2="363.30" y2="123.00" stroke="#404040" stroke-width="1" />
<line x1="372.80" y1="125.50" x2="372.80" y2="124.00" stroke="#404040" stroke-width="1" />
<line x1="382.30" y1="125.50" x2="382.30" y2="123.00" stroke="#404040" stroke-width="1" />
<line x1="391.80" y1="125.50" x2="391.80" y2="124.00" stroke="#404040" stroke-width="1" />
<line x1="401.30" y1="125.50" x2="401.30" y2="123.00" stroke="#404040" stroke-width="1" />
<line x1="410.80" y1="125.50" x2="410.80" y2="124.00" stroke="#404040" stroke-width="1" />
<line x1="420.30" y1="125.50" x2="420.30" y2="123.00" stroke="#404040" stroke-width="1" />
<line x1="429.80" y1="125.50" x2="429.80" y2="124.00" stroke="#404040" stroke-width="1" />
<line x1="439.30" y1="125.50" x2="439.30" y2="123.00" stroke="#404040" stroke-width="1" />
<line x1="448.80" y1="125.50" x2="448.80" y2="124.00" stroke="#404040" stroke-width="1" />
<line x1="458.30" y1="125.50" x2="458.30" y2="123.00" stroke="#404040" stroke-width="1" />
<line x1="467.80" y1="125.50" x2="467.80" y2="124.00" stroke="#404040" stroke-width="1" />
<line x1="477.30" y1="125.50" x2="477.30" y2="123.00" stroke="#404040" stroke-width="1" />
<line x1="486.80" y1="125.50" x2="486.80" y2="124.00" stroke="#404040" stroke-width="1" />
<line x1="496.30" y1="125.50" x2="496.30" y2="123.00" stroke="#404040" stroke-width="1" />
<line x1="505.80" y1="125.50" x2="505.80" y2="124.00" stroke="#404040" stroke-width="1" />
<line x1="306.30" y1="251.00" x2="306.30" y2="248.50" stroke="#404040" stroke-width="1" />
<line x1="315.80" y1="251.00" x2="315.80" y2="249.50" stroke="#404040" stroke-width="1" />
<line x1="325.30" y1="251.00" x2="325.30" y2="248.50" stroke="#404040" stroke-width="1" />
<line x1="334.80" y1="251.00" x2="334.80" y2="249.50" stroke="#404040" stroke-width="1" />
<line x1="344.30" y1="251.00" x2="344.30" y2="248.50" stroke="#404040" stroke-width="1" />
<line x1="353.80" y1="251.00" x2="353.80" y2="249.50" stroke="#404040" stroke-width="1" />
<line x1="363.30" y1="251.00" x2="363.30" y2="248.50" stroke="#404040" stroke-width="1" />
<line x1="372.80" y1="251.00" x2="372.80" y2="249.50" stroke="#404040" stroke-width="1" />
<line x1="382.30" y1="251.00" x2="382.30" y2="248.50" stroke="#404040" stroke-width="1" />
<line x1="391.80" y1="251.00" x2="391.80" y2="249.50" stroke="#404040" stroke-width="1" />
<line x1="401.30" y1="251.00" x2="401.30" y2="248.50" stroke="#404040" stroke-width="1" />
<line x1="410.80" y1="251.00" x2="410.80" y2="249.50" stroke="#404040" stroke-width="1" />
<line x1="420.30" y1="251.00" x2="420.30" y2="248.50" stroke="#404040" stroke-width="1" />
<line x1="429.80" y1="251.00" x2="429.80" y2="249.50" stroke="#404040" stroke-width="1" />
<line x1="439.30" y1="251.00" x2="439.30" y2="248.50" stroke="#404040" stroke-width="1" />
<line x1="448.80" y1="251.00" x2="448.80" y2="249.50" stroke="#404040" stroke-width="1" />
<line x1="458.30" y1="251.00" x2="458.30" y2="248.50" stroke="#404040" stroke-width="1" />
<line x1="467.80" y1="251.00" x2="467.80" y2="249.50" stroke="#404040" stroke-width="1" />
<line x1="477.30" y1="251.00" x2="477.30" y2="248.50" stroke="#404040" stroke-width="1" />
<line x1="486.80" y1="251.00" x2="486.80" y2="249.50" stroke="#404040" stroke-width="1" />
<line x1="496.30" y1="251.00" x2="496.30" y2="248.50" stroke="#404040" stroke-width="1" />
<line x1="505.80" y1="251.00" x2="505.80" y2="249.50" stroke="#404040" stroke-width="1" />
<line x1="306.30" y1="376.00" x2="306.30" y2="373.50" stroke="#404040" stroke-width="1" />
<text x="306.30" y="387.70" font-size="10.0" text-anchor="middle" font-weight="normal" fill="#111" >0</text>
<line x1="315.80" y1="376.00" x2="315.80" y2="374.50" stroke="#404040" stroke-width="1" />
<line x1="325.30" y1="376.00" x2="325.30" y2="373.50" stroke="#404040" stroke-width="1" />
<text x="325.30" y="387.70" font-size="10.0" text-anchor="middle" font-weight="normal" fill="#111" >2</text>
<line x1="334.80" y1="376.00" x2="334.80" y2="374.50" stroke="#404040" stroke-width="1" />
<line x1="344.30" y1="376.00" x2="344.30" y2="373.50" stroke="#404040" stroke-width="1" />
<text x="344.30" y="387.70" font-size="10.0" text-anchor="middle" font-weight="normal" fill="#111" >4</text>
<line x1="353.80" y1="376.00" x2="353.80" y2="374.50" stroke="#404040" stroke-width="1" />
<line x1="363.30" y1="376.00" x2="363.30" y2="373.50" stroke="#404040" stroke-width="1" />
<text x="363.30" y="387.70" font-size="10.0" text-anchor="middle" font-weight="normal" fill="#111" >6</text>
<line x1="372.80" y1="376.00" x2="372.80" y2="374.50" stroke="#404040" stroke-width="1" />
<line x1="382.30" y1="376.00" x2="382.30" y2="373.50" stroke="#404040" stroke-width="1" />
<text x="382.30" y="387.70" font-size="10.0" text-anchor="middle" font-weight="normal" fill="#111" >8</text>
<line x1="391.80" y1="376.00" x2="391.80" y2="374.50" stroke="#404040" stroke-width="1" />
<line x1="401.30" y1="376.00" x2="401.30" y2="373.50" stroke="#404040" stroke-width="1" />
<text x="401.30" y="387.70" font-size="10.0" text-anchor="middle" font-weight="normal" fill="#111" >10</text>
<line x1="410.80" y1="376.00" x2="410.80" y2="374.50" stroke="#404040" stroke-width="1" />
<line x1="420.30" y1="376.00" x2="420.30" y2="373.50" stroke="#404040" stroke-width="1" />
<text x="420.30" y="387.70" font-size="10.0" text-anchor="middle" font-weight="normal" fill="#111" >12</text>
<line x1="429.80" y1="376.00" x2="429.80" y2="374.50" stroke="#404040" stroke-width="1" />
<line x1="439.30" y1="376.00" x2="439.30" y2="373.50" stroke="#404040" stroke-width="1" />
<text x="439.30" y="387.70" font-size="10.0" text-anchor="middle" font-weight="normal" fill="#111" >14</text>
<line x1="448.80" y1="376.00" x2="448.80" y2="374.50" stroke="#404040" stroke-width="1" />
<line x1="458.30" y1="376.00" x2="458.30" y2="373.50" stroke="#404040" stroke-width="1" />
<text x="458.30" y="387.70" font-size="10.0" text-anchor="middle" font-weight="normal" fill="#111" >16</text>
<line x1="467.80" y1="376.00" x2="467.80" y2="374.50" stroke="#404040" stroke-width="1" />
<line x1="477.30" y1="376.00" x2="477.30" y2="373.50" stroke="#404040" stroke-width="1" />
<text x="477.30" y="387.70" font-size="10.0" text-anchor="middle" font-weight="normal" fill="#111" >18</text>
<line x1="486.80" y1="376.00" x2="486.80" y2="374.50" stroke="#404040" stroke-width="1" />
<line x1="496.30" y1="376.00" x2="496.30" y2="373.50" stroke="#404040" stroke-width="1" />
<text x="496.30" y="387.70" font-size="10.0" text-anchor="middle" font-weight="normal" fill="#111" >20</text>
<line x1="505.80" y1="376.00" x2="505.80" y2="374.50" stroke="#404040" stroke-width="1" />
<text x="308.60" y="16.00" font-size="10.85" text-anchor="start" font-weight="normal" fill="#111" >Sn Lα 3.47 keV</text>
<text transform="translate(396.70,88.10) scale(1,1.12)" font-size="13.6" font-weight="bold" fill="#111">(b)</text>
<text x="426.80" y="42.00" font-size="10.75" text-anchor="middle" font-weight="normal" fill="#111" >Penetration</text>
<text x="426.80" y="54.10" font-size="10.75" text-anchor="middle" font-weight="normal" fill="#111" >depth (µm)</text>
<rect x="458.90" y="21.20" width="22.30" height="8.80" fill="#000000"/>
<text x="484.00" y="29.50" font-size="10.8" text-anchor="start" font-weight="normal" fill="#111" >20</text>
<rect x="458.90" y="33.50" width="22.30" height="8.80" fill="#ff0000"/>
<text x="484.00" y="41.80" font-size="10.8" text-anchor="start" font-weight="normal" fill="#111" >30</text>
<rect x="458.90" y="45.80" width="22.30" height="8.80" fill="#0000ff"/>
<text x="484.00" y="54.10" font-size="10.8" text-anchor="start" font-weight="normal" fill="#111" >40</text>
<rect x="458.90" y="58.10" width="22.30" height="8.80" fill="#006868"/>
<text x="484.00" y="66.40" font-size="10.8" text-anchor="start" font-weight="normal" fill="#111" >45</text>
<text x="426.80" y="178.80" font-size="10.75" text-anchor="middle" font-weight="normal" fill="#111" >Penetration</text>
<text x="426.80" y="190.90" font-size="10.75" text-anchor="middle" font-weight="normal" fill="#111" >depth (µm)</text>
<rect x="458.90" y="145.80" width="22.30" height="8.80" fill="#680000"/>
<text x="484.00" y="154.10" font-size="10.8" text-anchor="start" font-weight="normal" fill="#111" >50</text>
<rect x="458.90" y="158.00" width="22.30" height="8.80" fill="#006800"/>
<text x="484.00" y="166.30" font-size="10.8" text-anchor="start" font-weight="normal" fill="#111" >60</text>
<rect x="458.90" y="170.20" width="22.30" height="8.80" fill="#006868"/>
<text x="484.00" y="178.50" font-size="10.8" text-anchor="start" font-weight="normal" fill="#111" >70</text>
<rect x="458.90" y="182.40" width="22.30" height="8.80" fill="#000080"/>
<text x="484.00" y="190.70" font-size="10.8" text-anchor="start" font-weight="normal" fill="#111" >80</text>
<rect x="458.90" y="194.60" width="22.30" height="8.80" fill="#ff6600"/>
<text x="484.00" y="202.90" font-size="10.8" text-anchor="start" font-weight="normal" fill="#111" >90</text>
<rect x="458.90" y="206.80" width="22.30" height="8.80" fill="#6a00ff"/>
<text x="484.00" y="215.10" font-size="10.8" text-anchor="start" font-weight="normal" fill="#111" >100</text>
<text x="426.80" y="293.60" font-size="10.75" text-anchor="middle" font-weight="normal" fill="#111" >Penetration</text>
<text x="426.80" y="305.70" font-size="10.75" text-anchor="middle" font-weight="normal" fill="#111" >depth (µm)</text>
<rect x="458.90" y="266.80" width="22.30" height="8.80" fill="#680000"/>
<text x="484.00" y="275.10" font-size="10.8" text-anchor="start" font-weight="normal" fill="#111" >110</text>
<rect x="458.90" y="279.15" width="22.30" height="8.80" fill="#006800"/>
<text x="484.00" y="287.45" font-size="10.8" text-anchor="start" font-weight="normal" fill="#111" >150</text>
<rect x="458.90" y="291.50" width="22.30" height="8.80" fill="#006868"/>
<text x="484.00" y="299.80" font-size="10.8" text-anchor="start" font-weight="normal" fill="#111" >190</text>
<rect x="458.90" y="303.85" width="22.30" height="8.80" fill="#000080"/>
<text x="484.00" y="312.15" font-size="10.8" text-anchor="start" font-weight="normal" fill="#111" >220</text>
<rect x="458.90" y="316.20" width="22.30" height="8.80" fill="#ff6600"/>
<text x="484.00" y="324.50" font-size="10.8" text-anchor="start" font-weight="normal" fill="#111" >250</text>
<text x="405.00" y="402.00" font-size="10.85" text-anchor="middle" font-weight="normal" fill="#111" >Photon energy (keV)</text>
<text transform="translate(279.0,193.4) rotate(-90)" font-size="10.95" text-anchor="middle" fill="#111">Emitted X-rays (X-rays / 10<tspan font-size="7" dy="-4">6</tspan><tspan dy="4"> protons)</tspan></text>
<rect x="562.50" y="0.50" width="116.00" height="159.00" fill="none" stroke="#7d7d7d" stroke-width="1"/>
<line x1="562.50" y1="159.50" x2="564.70" y2="159.50" stroke="#404040" stroke-width="1" />
<text x="560.20" y="161.80" font-size="7.7" text-anchor="end" font-weight="normal" fill="#222" >0</text>
<line x1="562.50" y1="148.89" x2="563.70" y2="148.89" stroke="#404040" stroke-width="1" />
<line x1="562.50" y1="138.28" x2="564.70" y2="138.28" stroke="#404040" stroke-width="1" />
<text x="560.20" y="140.58" font-size="7.7" text-anchor="end" font-weight="normal" fill="#222" >5</text>
<line x1="562.50" y1="127.66" x2="563.70" y2="127.66" stroke="#404040" stroke-width="1" />
<line x1="562.50" y1="117.05" x2="564.70" y2="117.05" stroke="#404040" stroke-width="1" />
<text x="560.20" y="119.35" font-size="7.7" text-anchor="end" font-weight="normal" fill="#222" >10</text>
<line x1="562.50" y1="106.44" x2="563.70" y2="106.44" stroke="#404040" stroke-width="1" />
<line x1="562.50" y1="95.82" x2="564.70" y2="95.82" stroke="#404040" stroke-width="1" />
<text x="560.20" y="98.12" font-size="7.7" text-anchor="end" font-weight="normal" fill="#222" >15</text>
<line x1="562.50" y1="85.21" x2="563.70" y2="85.21" stroke="#404040" stroke-width="1" />
<line x1="562.50" y1="74.60" x2="564.70" y2="74.60" stroke="#404040" stroke-width="1" />
<text x="560.20" y="76.90" font-size="7.7" text-anchor="end" font-weight="normal" fill="#222" >20</text>
<line x1="562.50" y1="63.99" x2="563.70" y2="63.99" stroke="#404040" stroke-width="1" />
<line x1="562.50" y1="53.38" x2="564.70" y2="53.38" stroke="#404040" stroke-width="1" />
<text x="560.20" y="55.67" font-size="7.7" text-anchor="end" font-weight="normal" fill="#222" >25</text>
<line x1="562.50" y1="42.76" x2="563.70" y2="42.76" stroke="#404040" stroke-width="1" />
<line x1="562.50" y1="32.15" x2="564.70" y2="32.15" stroke="#404040" stroke-width="1" />
<text x="560.20" y="34.45" font-size="7.7" text-anchor="end" font-weight="normal" fill="#222" >30</text>
<line x1="562.50" y1="21.54" x2="563.70" y2="21.54" stroke="#404040" stroke-width="1" />
<line x1="562.50" y1="10.92" x2="564.70" y2="10.92" stroke="#404040" stroke-width="1" />
<text x="560.20" y="13.22" font-size="7.7" text-anchor="end" font-weight="normal" fill="#222" >35</text>
<line x1="562.50" y1="159.50" x2="562.50" y2="157.10" stroke="#404040" stroke-width="1" />
<text x="562.50" y="168.00" font-size="7.6" text-anchor="middle" font-weight="normal" fill="#222" >20</text>
<line x1="569.00" y1="159.50" x2="569.00" y2="158.30" stroke="#404040" stroke-width="1" />
<line x1="575.50" y1="159.50" x2="575.50" y2="157.10" stroke="#404040" stroke-width="1" />
<text x="575.50" y="168.00" font-size="7.6" text-anchor="middle" font-weight="normal" fill="#222" >30</text>
<line x1="582.00" y1="159.50" x2="582.00" y2="158.30" stroke="#404040" stroke-width="1" />
<line x1="588.50" y1="159.50" x2="588.50" y2="157.10" stroke="#404040" stroke-width="1" />
<text x="588.50" y="168.00" font-size="7.6" text-anchor="middle" font-weight="normal" fill="#222" >40</text>
<line x1="595.00" y1="159.50" x2="595.00" y2="158.30" stroke="#404040" stroke-width="1" />
<line x1="601.50" y1="159.50" x2="601.50" y2="157.10" stroke="#404040" stroke-width="1" />
<text x="601.50" y="168.00" font-size="7.6" text-anchor="middle" font-weight="normal" fill="#222" >50</text>
<line x1="608.00" y1="159.50" x2="608.00" y2="158.30" stroke="#404040" stroke-width="1" />
<line x1="614.50" y1="159.50" x2="614.50" y2="157.10" stroke="#404040" stroke-width="1" />
<text x="614.50" y="168.00" font-size="7.6" text-anchor="middle" font-weight="normal" fill="#222" >60</text>
<line x1="621.00" y1="159.50" x2="621.00" y2="158.30" stroke="#404040" stroke-width="1" />
<line x1="627.50" y1="159.50" x2="627.50" y2="157.10" stroke="#404040" stroke-width="1" />
<text x="627.50" y="168.00" font-size="7.6" text-anchor="middle" font-weight="normal" fill="#222" >70</text>
<line x1="634.00" y1="159.50" x2="634.00" y2="158.30" stroke="#404040" stroke-width="1" />
<line x1="640.50" y1="159.50" x2="640.50" y2="157.10" stroke="#404040" stroke-width="1" />
<text x="640.50" y="168.00" font-size="7.6" text-anchor="middle" font-weight="normal" fill="#222" >80</text>
<line x1="647.00" y1="159.50" x2="647.00" y2="158.30" stroke="#404040" stroke-width="1" />
<line x1="653.50" y1="159.50" x2="653.50" y2="157.10" stroke="#404040" stroke-width="1" />
<text x="653.50" y="168.00" font-size="7.6" text-anchor="middle" font-weight="normal" fill="#222" >90</text>
<line x1="660.00" y1="159.50" x2="660.00" y2="158.30" stroke="#404040" stroke-width="1" />
<line x1="666.50" y1="159.50" x2="666.50" y2="157.10" stroke="#404040" stroke-width="1" />
<text x="666.50" y="168.00" font-size="7.6" text-anchor="middle" font-weight="normal" fill="#222" >100</text>
<line x1="673.00" y1="159.50" x2="673.00" y2="158.30" stroke="#404040" stroke-width="1" />
<line x1="679.50" y1="159.50" x2="679.50" y2="157.10" stroke="#404040" stroke-width="1" />
<text x="679.50" y="168.00" font-size="7.6" text-anchor="middle" font-weight="normal" fill="#222" >110</text>
<circle cx="575.50" cy="159.50" r="1.55" fill="#000"/>
<circle cx="582.00" cy="159.50" r="1.55" fill="#000"/>
<circle cx="588.50" cy="154.83" r="1.55" fill="#000"/>
<circle cx="595.00" cy="148.89" r="1.55" fill="#000"/>
<circle cx="601.50" cy="148.89" r="1.55" fill="#000"/>
<circle cx="608.00" cy="125.96" r="1.55" fill="#000"/>
<circle cx="614.50" cy="111.96" r="1.55" fill="#000"/>
<circle cx="627.50" cy="81.39" r="1.55" fill="#000"/>
<circle cx="640.50" cy="72.05" r="1.55" fill="#000"/>
<circle cx="653.50" cy="53.38" r="1.55" fill="#000"/>
<circle cx="666.50" cy="16.44" r="1.55" fill="#000"/>
<circle cx="547.7" cy="53.1" r="0.6" fill="#555"/>
<text transform="translate(648.00,140.50) scale(1,1.1)" font-size="13.2" font-weight="bold" fill="#111">(c)</text>
<text x="614.90" y="183.30" font-size="10.85" text-anchor="middle" font-weight="normal" fill="#111" >Depth (µm)</text>
<text transform="translate(538.8,96.6) rotate(-90)" font-size="10.9" text-anchor="middle" fill="#111">Contribution to kalfa (%)</text>
<rect x="562.50" y="216.50" width="117.00" height="160.30" fill="none" stroke="#7d7d7d" stroke-width="1"/>
<line x1="562.50" y1="357.30" x2="564.70" y2="357.30" stroke="#404040" stroke-width="1" />
<text x="560.20" y="359.80" font-size="7.7" text-anchor="end" font-weight="normal" fill="#222" >0</text>
<line x1="562.50" y1="337.18" x2="563.70" y2="337.18" stroke="#404040" stroke-width="1" />
<line x1="562.50" y1="317.05" x2="564.70" y2="317.05" stroke="#404040" stroke-width="1" />
<text x="560.20" y="319.55" font-size="7.7" text-anchor="end" font-weight="normal" fill="#222" >5</text>
<line x1="562.50" y1="296.93" x2="563.70" y2="296.93" stroke="#404040" stroke-width="1" />
<line x1="562.50" y1="276.80" x2="564.70" y2="276.80" stroke="#404040" stroke-width="1" />
<text x="560.20" y="279.30" font-size="7.7" text-anchor="end" font-weight="normal" fill="#222" >10</text>
<line x1="562.50" y1="256.68" x2="563.70" y2="256.68" stroke="#404040" stroke-width="1" />
<line x1="562.50" y1="236.55" x2="564.70" y2="236.55" stroke="#404040" stroke-width="1" />
<text x="560.20" y="239.05" font-size="7.7" text-anchor="end" font-weight="normal" fill="#222" >15</text>
<line x1="562.50" y1="376.80" x2="562.50" y2="374.40" stroke="#404040" stroke-width="1" />
<text x="562.50" y="386.00" font-size="8.0" text-anchor="middle" font-weight="normal" fill="#222" >0</text>
<line x1="573.25" y1="376.80" x2="573.25" y2="375.60" stroke="#404040" stroke-width="1" />
<line x1="584.00" y1="376.80" x2="584.00" y2="374.40" stroke="#404040" stroke-width="1" />
<text x="584.00" y="386.00" font-size="8.0" text-anchor="middle" font-weight="normal" fill="#222" >50</text>
<line x1="594.75" y1="376.80" x2="594.75" y2="375.60" stroke="#404040" stroke-width="1" />
<line x1="605.50" y1="376.80" x2="605.50" y2="374.40" stroke="#404040" stroke-width="1" />
<text x="605.50" y="386.00" font-size="8.0" text-anchor="middle" font-weight="normal" fill="#222" >100</text>
<line x1="616.25" y1="376.80" x2="616.25" y2="375.60" stroke="#404040" stroke-width="1" />
<line x1="627.00" y1="376.80" x2="627.00" y2="374.40" stroke="#404040" stroke-width="1" />
<text x="627.00" y="386.00" font-size="8.0" text-anchor="middle" font-weight="normal" fill="#222" >150</text>
<line x1="637.75" y1="376.80" x2="637.75" y2="375.60" stroke="#404040" stroke-width="1" />
<line x1="648.50" y1="376.80" x2="648.50" y2="374.40" stroke="#404040" stroke-width="1" />
<text x="648.50" y="386.00" font-size="8.0" text-anchor="middle" font-weight="normal" fill="#222" >200</text>
<line x1="659.25" y1="376.80" x2="659.25" y2="375.60" stroke="#404040" stroke-width="1" />
<line x1="670.00" y1="376.80" x2="670.00" y2="374.40" stroke="#404040" stroke-width="1" />
<text x="670.00" y="386.00" font-size="8.0" text-anchor="middle" font-weight="normal" fill="#222" >250</text>
<circle cx="571.10" cy="357.70" r="1.6" fill="#000"/>
<circle cx="575.40" cy="352.87" r="1.6" fill="#000"/>
<circle cx="579.70" cy="348.04" r="1.6" fill="#000"/>
<circle cx="581.85" cy="335.96" r="1.6" fill="#000"/>
<circle cx="584.00" cy="336.77" r="1.6" fill="#000"/>
<circle cx="588.30" cy="335.96" r="1.6" fill="#000"/>
<circle cx="592.60" cy="313.42" r="1.6" fill="#000"/>
<circle cx="596.90" cy="297.32" r="1.6" fill="#000"/>
<circle cx="601.20" cy="298.94" r="1.6" fill="#000"/>
<circle cx="605.50" cy="288.47" r="1.6" fill="#000"/>
<circle cx="609.80" cy="279.62" r="1.6" fill="#000"/>
<circle cx="627.00" cy="269.15" r="1.6" fill="#000"/>
<circle cx="644.20" cy="286.05" r="1.6" fill="#000"/>
<circle cx="657.10" cy="285.25" r="1.6" fill="#000"/>
<circle cx="670.00" cy="358.50" r="1.6" fill="#000"/>
<text transform="translate(623.00,355.10) scale(1,1.1)" font-size="13.6" font-weight="bold" fill="#111">(d)</text>
<text x="617.50" y="400.60" font-size="10.85" text-anchor="middle" font-weight="normal" fill="#111" >Depth (µm)</text>
<text transform="translate(545.2,308.0) rotate(-90)" font-size="10.95" text-anchor="middle" fill="#111">Contribution to Lalfa (%)</text>
</svg></body></html>
